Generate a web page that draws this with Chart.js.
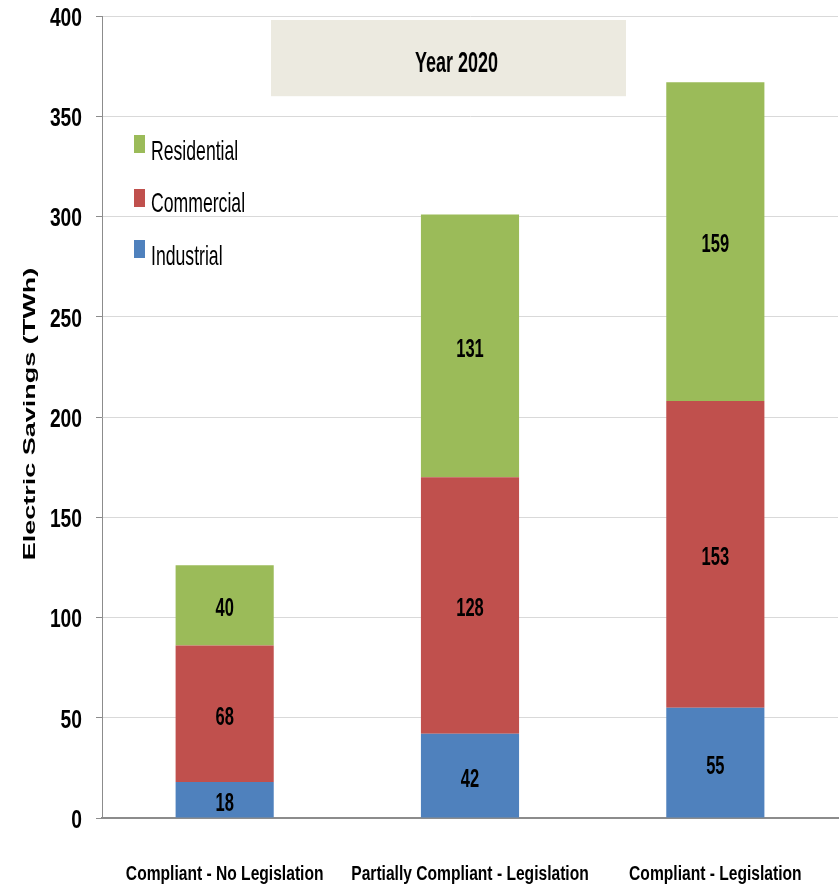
<!DOCTYPE html>
<html lang="en">
<head>
    <meta charset="UTF-8">
    <title>Electric Savings 2020</title>
    <script src="https://cdn.jsdelivr.net/npm/chart.js"></script>
    <style>
        body {
            margin: 0;
            background-color: #ffffff;
        }

        .container {
            width: 840px;
            height: 889px;
        }
    </style>
</head>
<body>
    <div class="container">
        <canvas id="savingsChart" width="840" height="889"></canvas>
    </div>

    <script>
        const scenarios = ['Compliant - No Legislation', 'Partially Compliant - Legislation', 'Compliant - Legislation'];
        const industrial = [18, 42, 55];
        const commercial = [68, 128, 153];
        const residential = [40, 131, 159];
        const yTicks = [0, 50, 100, 150, 200, 250, 300, 350, 400];

        const sans = "'Liberation Sans', Arial, sans-serif";

        // draws text squeezed sideways (narrow look)
        function squeezed(ctx, text, x, y, sx, font, align) {
            ctx.save();
            ctx.translate(x, y);
            ctx.scale(sx, 1);
            ctx.font = font;
            ctx.textAlign = align || 'center';
            ctx.fillText(text, 0, 0);
            ctx.restore();
        }

        // value printed in the middle of every segment
        const segmentLabels = {
            id: 'segmentLabels',
            afterDatasetsDraw(chart) {
                const ctx = chart.ctx;
                ctx.save();
                ctx.fillStyle = '#000000';
                ctx.textBaseline = 'middle';
                chart.data.datasets.forEach((ds, i) => {
                    chart.getDatasetMeta(i).data.forEach((bar, j) => {
                        const mid = (bar.y + bar.base) / 2;
                        squeezed(ctx, String(ds.data[j]), bar.x, mid + 4, 0.66, 'bold 25px ' + sans);
                    });
                });
                ctx.restore();
            }
        };

        // axis labels, drawn narrow at the scale positions
        const axisText = {
            id: 'axisText',
            afterDraw(chart) {
                const ctx = chart.ctx;
                const x = chart.scales.x;
                const y = chart.scales.y;
                ctx.save();
                ctx.fillStyle = '#000000';
                ctx.textBaseline = 'middle';
                yTicks.forEach(v => {
                    squeezed(ctx, String(v), y.right - 20, y.getPixelForValue(v) + 3, 0.77, 'bold 25px ' + sans, 'right');
                });
                ctx.textBaseline = 'alphabetic';
                scenarios.forEach((s, i) => {
                    squeezed(ctx, s, x.getPixelForValue(i), 880, 0.78, 'bold 20px ' + sans);
                });

                // rotated y title
                ctx.translate(30, (y.top + y.bottom) / 2 - 3);
                ctx.scale(0.62, 1);
                ctx.rotate(-Math.PI / 2);
                ctx.font = 'bold 27px ' + sans;
                ctx.textAlign = 'center';
                ctx.textBaseline = 'middle';
                ctx.fillText('Electric Savings (TWh)', 0, 0);
                ctx.restore();
            }
        };

        // shaded year box and the legend sitting inside the plot
        const insideDecor = {
            id: 'insideDecor',
            beforeDatasetsDraw(chart) {
                const ctx = chart.ctx;
                const area = chart.chartArea;
                const y = chart.scales.y;
                ctx.save();
                ctx.fillStyle = '#ECEAE0';
                const boxLeft = area.left + 169;
                const boxRight = area.left + 524;
                const boxTop = y.getPixelForValue(398);
                const boxBottom = y.getPixelForValue(360);
                ctx.fillRect(boxLeft, boxTop, boxRight - boxLeft, boxBottom - boxTop);
                ctx.fillStyle = '#000000';
                ctx.textBaseline = 'alphabetic';
                squeezed(ctx, 'Year 2020', (boxLeft + boxRight) / 2 + 8, boxTop + 52, 0.62, 'bold 29px ' + sans);

                const order = [2, 1, 0];
                const baselines = [160, 212, 265];
                const tops = [135, 189, 240];
                order.forEach((di, k) => {
                    const ds = chart.data.datasets[di];
                    ctx.fillStyle = ds.backgroundColor;
                    ctx.fillRect(area.left + 32, tops[k], 11, 18);
                    ctx.fillStyle = '#000000';
                    squeezed(ctx, ds.label, area.left + 49, baselines[k], 0.63, '28px ' + sans, 'left');
                });
                ctx.restore();
            }
        };

        const ctx = document.getElementById('savingsChart').getContext('2d');
        new Chart(ctx, {
            type: 'bar',
            data: {
                labels: scenarios,
                datasets: [
                    { label: 'Industrial', data: industrial, backgroundColor: '#4F81BD' },
                    { label: 'Commercial', data: commercial, backgroundColor: '#C0504D' },
                    { label: 'Residential', data: residential, backgroundColor: '#9BBB59' }
                ]
            },
            options: {
                responsive: false,
                animation: false,
                layout: { padding: { top: 16, right: 2, left: 0, bottom: 0 } },
                datasets: {
                    bar: { barPercentage: 0.8, categoryPercentage: 0.5 }
                },
                plugins: {
                    legend: { display: false },
                    tooltip: { enabled: false }
                },
                scales: {
                    x: {
                        stacked: true,
                        grid: { display: false },
                        border: { color: '#8c8c8c', width: 2 },
                        ticks: { display: false },
                        afterFit(scale) { scale.height = 71; }
                    },
                    y: {
                        stacked: true,
                        min: 0,
                        max: 400,
                        afterBuildTicks(scale) {
                            scale.ticks = yTicks.map(v => ({ value: v }));
                        },
                        grid: { color: '#d9d9d9', tickLength: 6, tickColor: '#8c8c8c' },
                        border: { color: '#8c8c8c', width: 1 },
                        ticks: { display: false },
                        afterFit(scale) { scale.width = 102; }
                    }
                }
            },
            plugins: [insideDecor, segmentLabels, axisText]
        });
    </script>
</body>
</html>
